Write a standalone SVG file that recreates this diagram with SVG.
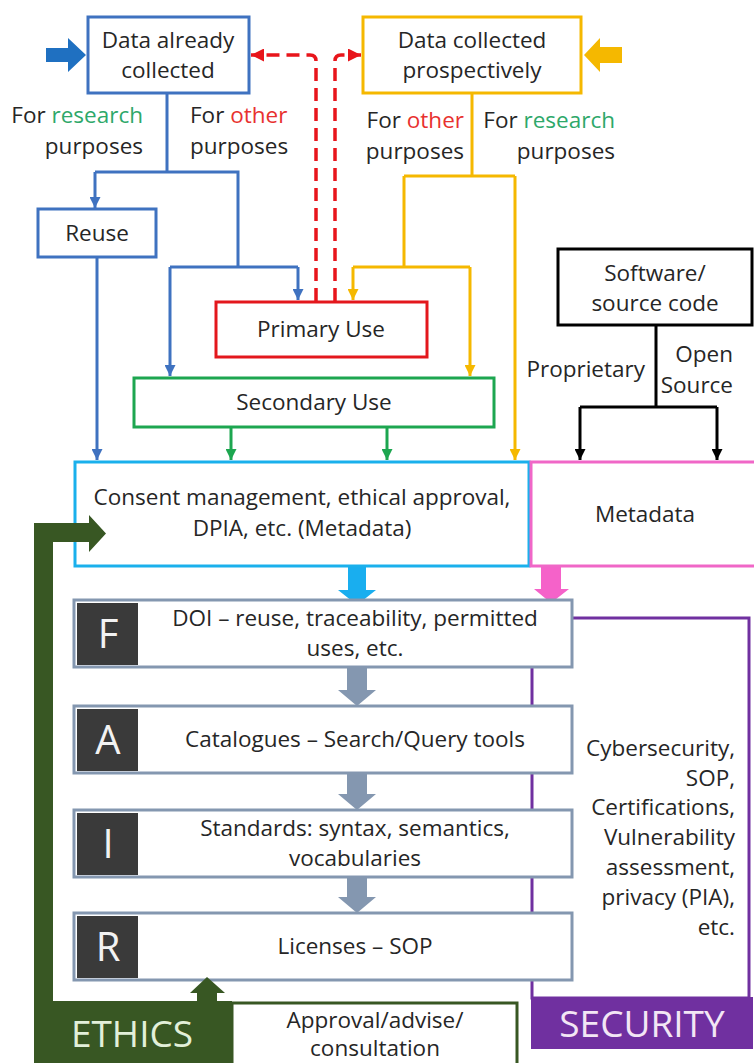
<svg xmlns="http://www.w3.org/2000/svg" width="754" height="1063" viewBox="0 0 754 1063">
<style>
text{font-family:"Open Sans","Liberation Sans",sans-serif;font-size:22.5px;fill:#262626}
.c{text-anchor:middle}
.e{text-anchor:end}
.box{fill:#fff;stroke-width:3}
.ln{fill:none;stroke-width:3}
.dash{fill:none;stroke:#E8151B;stroke-width:3.5;stroke-dasharray:13 7}
.fair{fill:#fff;stroke:#8497B0;stroke-width:3}
.sq{fill:#3A3A3A}
.let{font-size:40px;fill:#F2F2F2;text-anchor:middle}
.g{fill:#2EA86A}
.r{fill:#E8312F}
.eth{fill:#385723}
</style>
<defs>
<marker id="mb" viewBox="0 0 10 10" refX="10" refY="5" markerWidth="11" markerHeight="11" markerUnits="userSpaceOnUse" orient="auto"><path d="M0 0L10 5L0 10z" fill="#3F72C0"/></marker>
<marker id="my" viewBox="0 0 10 10" refX="10" refY="5" markerWidth="11" markerHeight="11" markerUnits="userSpaceOnUse" orient="auto"><path d="M0 0L10 5L0 10z" fill="#F5B800"/></marker>
<marker id="mr" viewBox="0 0 10 10" refX="10" refY="5" markerWidth="13" markerHeight="13" markerUnits="userSpaceOnUse" orient="auto"><path d="M0 0L10 5L0 10z" fill="#E8151B"/></marker>
<marker id="mg" viewBox="0 0 10 10" refX="10" refY="5" markerWidth="11" markerHeight="11" markerUnits="userSpaceOnUse" orient="auto"><path d="M0 0L10 5L0 10z" fill="#1DA650"/></marker>
<marker id="mk" viewBox="0 0 10 10" refX="10" refY="5" markerWidth="11" markerHeight="11" markerUnits="userSpaceOnUse" orient="auto"><path d="M0 0L10 5L0 10z" fill="#000"/></marker>
</defs>
<rect width="754" height="1063" fill="#fff"/>

<g id="security">
<rect x="532" y="618" width="217" height="380" fill="#fff" stroke="#7030A0" stroke-width="3"/>
<rect x="531" y="997" width="222" height="52" fill="#7030A0"/>
<text x="642" y="1037" class="c" style="font-size:37px;fill:#F3E6F5">SECURITY</text>
<text x="735" y="756" class="e">Cybersecurity,</text>
<text x="735" y="786" class="e">SOP,</text>
<text x="735" y="815" class="e">Certifications,</text>
<text x="735" y="845" class="e">Vulnerability</text>
<text x="735" y="875" class="e">assessment,</text>
<text x="735" y="905" class="e">privacy (PIA),</text>
<text x="735" y="935" class="e">etc.</text>
</g>

<g id="approval">
<rect x="232" y="1003" width="285" height="62" fill="#fff" stroke="#385723" stroke-width="3"/>
<text x="375" y="1028" class="c">Approval/advise/</text>
<text x="375" y="1056" class="c">consultation</text>
</g>

<g id="connectors">
<path class="ln" stroke="#3F72C0" d="M167 93 V172 M95 172 H238 V267 M170 267 H298"/>
<path class="ln" stroke="#3F72C0" marker-end="url(#mb)" d="M95 172 V208"/>
<path class="ln" stroke="#3F72C0" marker-end="url(#mb)" d="M298 267 V300"/>
<path class="ln" stroke="#3F72C0" marker-end="url(#mb)" d="M170 267 V376"/>
<path class="ln" stroke="#3F72C0" marker-end="url(#mb)" d="M97 257 V460"/>
<path class="ln" stroke="#F5B800" d="M472 93 V176 M404 176 H515 M404 176 V267 M353 267 H470"/>
<path class="ln" stroke="#F5B800" marker-end="url(#my)" d="M353 267 V300"/>
<path class="ln" stroke="#F5B800" marker-end="url(#my)" d="M470 267 V376"/>
<path class="ln" stroke="#F5B800" marker-end="url(#my)" d="M515 176 V460"/>
<path class="dash" marker-end="url(#mr)" d="M316 301 V61 Q316 55 310 55 H251"/>
<path class="dash" marker-end="url(#mr)" d="M335 301 V61 Q335 55 341 55 H361"/>
<path class="ln" stroke="#1DA650" marker-end="url(#mg)" d="M231 427 V460"/>
<path class="ln" stroke="#1DA650" marker-end="url(#mg)" d="M387 427 V460"/>
<path class="ln" stroke="#000" d="M656 325 V407 M580 407 H717"/>
<path class="ln" stroke="#000" marker-end="url(#mk)" d="M580 407 V460"/>
<path class="ln" stroke="#000" marker-end="url(#mk)" d="M717 407 V460"/>
<path d="M46 48 H68 V38 L86 55 L68 72 V62 H46 Z" fill="#1F70C1"/>
<path d="M584 55 L600 38 V47 H622 V63 H600 V72 Z" fill="#F5B800"/>
<path d="M348 566 V590 H338 L357 605 L376 590 H366 V566 Z" fill="#19AEEF"/>
<path d="M541 566 V589 H534 L551 603 L569 589 H561 V566 Z" fill="#F562C9"/>
<path d="M347 667 V690 H338 L357 706 L376 690 H367 V667 Z" fill="#8497B0"/>
<path d="M347 773 V794 H338 L357 810 L376 794 H367 V773 Z" fill="#8497B0"/>
<path d="M347 877 V897 H338 L357 913 L376 897 H367 V877 Z" fill="#8497B0"/>
</g>

<g id="data-already">
<rect class="box" x="88" y="17" width="161" height="76" stroke="#3F72C0"/>
<text x="168" y="48" class="c">Data already</text>
<text x="168" y="78" class="c">collected</text>
</g>
<g id="data-prospective">
<rect class="box" x="363" y="17" width="218" height="76" stroke="#F5B800"/>
<text x="472" y="48" class="c">Data collected</text>
<text x="472" y="78" class="c">prospectively</text>
</g>
<g id="labels">
<text x="143" y="123" class="e">For <tspan class="g">research</tspan></text>
<text x="143" y="154" class="e">purposes</text>
<text x="190" y="123">For <tspan class="r">other</tspan></text>
<text x="190" y="154">purposes</text>
<text x="464" y="128" class="e">For <tspan class="r">other</tspan></text>
<text x="464" y="159" class="e">purposes</text>
<text x="615" y="128" class="e">For <tspan class="g">research</tspan></text>
<text x="615" y="159" class="e">purposes</text>
<text x="645" y="377" class="e">Proprietary</text>
<text x="733" y="362" class="e">Open</text>
<text x="733" y="393" class="e">Source</text>
</g>
<g id="reuse">
<rect class="box" x="38" y="209" width="118" height="48" stroke="#3F72C0"/>
<text x="97" y="241" class="c">Reuse</text>
</g>
<g id="primary">
<rect class="box" x="216" y="302" width="211" height="55" stroke="#E3171C"/>
<text x="321" y="337" class="c">Primary Use</text>
</g>
<g id="secondary">
<rect class="box" x="134" y="378" width="360" height="49" stroke="#1DA650"/>
<text x="314" y="410" class="c">Secondary Use</text>
</g>
<g id="software">
<rect class="box" x="558" y="249" width="194" height="76" stroke="#000"/>
<text x="655" y="281" class="c">Software/</text>
<text x="655" y="311" class="c">source code</text>
</g>
<g id="consent">
<rect class="box" x="75" y="462" width="454" height="104" stroke="#1AB0EC"/>
<text x="302" y="505" class="c">Consent management, ethical approval,</text>
<text x="302" y="536" class="c">DPIA, etc. (Metadata)</text>
</g>
<g id="metadata">
<rect class="box" x="531" y="462" width="230" height="104" stroke="#F067C7"/>
<text x="645" y="522" class="c">Metadata</text>
</g>

<g id="fair-f">
<rect class="fair" x="74" y="600" width="498" height="67"/>
<rect class="sq" x="77" y="603" width="61" height="62"/>
<text x="108" y="648" class="let">F</text>
<text x="355" y="626" class="c">DOI – reuse, traceability, permitted</text>
<text x="355" y="656" class="c">uses, etc.</text>
</g>
<g id="fair-a">
<rect class="fair" x="74" y="706" width="498" height="67"/>
<rect class="sq" x="77" y="709" width="61" height="62"/>
<text x="108" y="754" class="let">A</text>
<text x="355" y="747" class="c">Catalogues – Search/Query tools</text>
</g>
<g id="fair-i">
<rect class="fair" x="74" y="810" width="498" height="67"/>
<rect class="sq" x="77" y="813" width="61" height="62"/>
<text x="108" y="858" class="let">I</text>
<text x="355" y="836" class="c">Standards: syntax, semantics,</text>
<text x="355" y="866" class="c">vocabularies</text>
</g>
<g id="fair-r">
<rect class="fair" x="74" y="913" width="498" height="67"/>
<rect class="sq" x="77" y="916" width="61" height="62"/>
<text x="108" y="961" class="let">R</text>
<text x="355" y="954" class="c">Licenses – SOP</text>
</g>

<g id="ethics">
<path class="eth" d="M34 1063 V523 H89 V515 L106 533.5 L89 552 V542 H53 V1001 H232 V1063 Z"/>
<path class="eth" d="M197 1002 V993 H190 L207 977 L225 993 H217 V1002 Z"/>
<text x="132" y="1047" class="c" style="font-size:37px;fill:#E2F0D9">ETHICS</text>
</g>
</svg>
